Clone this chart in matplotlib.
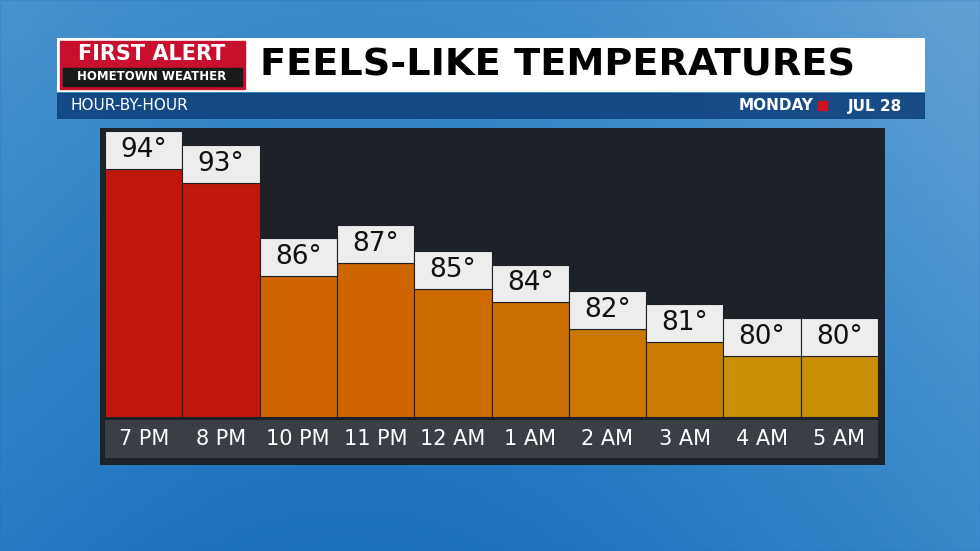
import matplotlib
matplotlib.use("Agg")
import matplotlib.pyplot as plt
import numpy as np
from matplotlib.patches import Rectangle

hours = ["7 PM", "8 PM", "10 PM", "11 PM", "12 AM", "1 AM", "2 AM", "3 AM", "4 AM", "5 AM"]
temps = [94, 93, 86, 87, 85, 84, 82, 81, 80, 80]
bar_colors = ["#C0170B", "#C0170B", "#CE6500", "#CE6500", "#CD6A00", "#CC6E00",
              "#CB7800", "#CA7D00", "#C98F07", "#C98F07"]

W, H = 980, 551
fig = plt.figure(figsize=(W / 100, H / 100), dpi=100)


def px_axes(x0, y0, x1, y1, **kw):
    # pixel box (top-left origin) -> figure axes
    return fig.add_axes([x0 / W, 1 - y1 / H, (x1 - x0) / W, (y1 - y0) / H], **kw)


# blue background
bg = px_axes(0, 0, W, H)
xx, yy = np.meshgrid(np.linspace(0, 1, 200), np.linspace(0, 1, 120))
grad = 0.55 + 0.35 * np.sin(xx * 3 + 0.5) * 0.5 + 0.25 * yy
bg.imshow(grad, cmap="Blues", vmin=0, vmax=1.3, aspect="auto", extent=[0, 1, 0, 1])
bg.add_patch(Rectangle((0, 0), 1, 1, color="#1a6fc4", alpha=0.45))
bg.set_axis_off()

# title bar
tb = px_axes(57, 38, 925, 92)
tb.set_xlim(0, 868); tb.set_ylim(54, 0)
tb.add_patch(Rectangle((0, 0), 868, 54, color="white"))
tb.add_patch(Rectangle((3, 3), 185, 48, color="#C8102E"))
tb.add_patch(Rectangle((6, 30), 179, 18, color="#1a1a1a"))
tb.text(95, 16, "FIRST ALERT", color="white", fontsize=15, weight="bold", ha="center", va="center")
tb.text(95, 39, "HOMETOWN WEATHER", color="white", fontsize=8.5, weight="bold", ha="center", va="center")
tb.text(203, 27, "FEELS-LIKE TEMPERATURES", color="black", fontsize=27.5, weight="bold",
        ha="left", va="center")
tb.set_axis_off()

# sub header
sb = px_axes(57, 93, 925, 119)
sb.set_xlim(0, 868); sb.set_ylim(26, 0)
sb.add_patch(Rectangle((0, 0), 868, 26, color="#0d3f7a", alpha=0.85))
sb.text(13, 13, "HOUR-BY-HOUR", color="white", fontsize=11, ha="left", va="center")
sb.text(845, 13, "JUL 28", color="white", fontsize=11, weight="bold", ha="right", va="center")
sb.add_patch(Rectangle((761, 8), 9, 9, color="#D0101E"))
sb.text(756, 13, "MONDAY", color="white", fontsize=11, weight="bold", ha="right", va="center")
sb.set_axis_off()

# dark panel
pn = px_axes(100, 128, 885, 465)
pn.add_patch(Rectangle((0, 0), 1, 1, color="#1d2228"))
pn.set_axis_off()

# bars
ax = px_axes(105, 128, 878, 417)
ax.set_xlim(-0.5, len(hours) - 0.5)
ax.set_ylim(75.4, 97.1)
ax.set_facecolor("none")
x = np.arange(len(hours))
box = 2.85
ax.bar(x, np.array(temps) - 75.4, bottom=75.4, width=1.0, color=bar_colors,
       edgecolor="#1d2228", linewidth=0.8)
ax.bar(x, box, bottom=temps, width=1.0, color="#EDEDED", edgecolor="#1d2228", linewidth=0.8)
for xi, t in zip(x, temps):
    ax.text(xi, t + box / 2, f"{t}°", ha="center", va="center", fontsize=19,
            color="#111", weight="medium")
ax.set_axis_off()

# hour label band
lb = px_axes(105, 420, 878, 458)
lb.set_xlim(-0.5, len(hours) - 0.5); lb.set_ylim(0, 1)
lb.add_patch(Rectangle((-0.5, 0), len(hours), 1, color="#3a3f46"))
for xi, h in zip(x, hours):
    lb.text(xi, 0.5, h, ha="center", va="center", fontsize=15, color="white")
lb.set_axis_off()

fig.savefig("out.png", dpi=100)
